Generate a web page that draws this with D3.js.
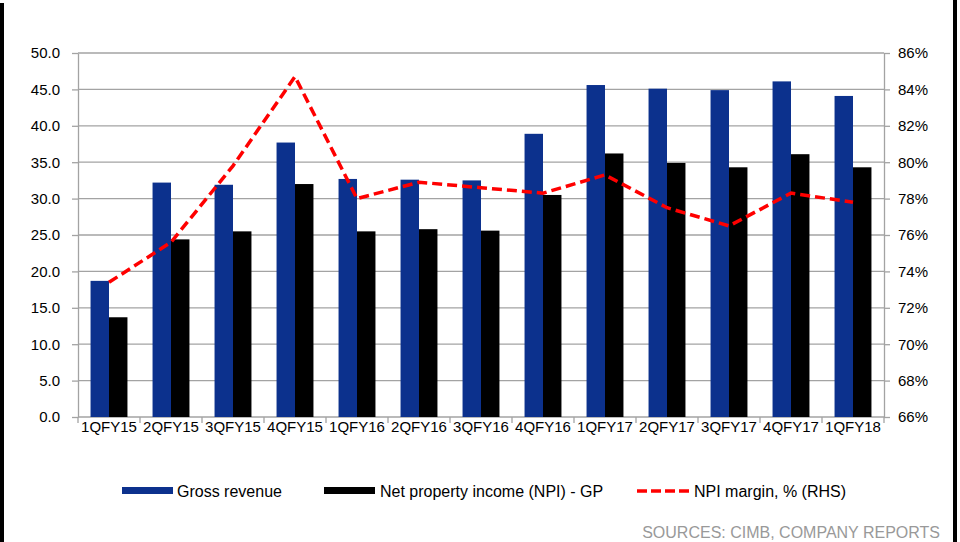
<!DOCTYPE html>
<html><head><meta charset="utf-8">
<script src="https://cdn.jsdelivr.net/npm/d3@7"></script>
<style>body{margin:0;background:#fff}svg{display:block}text{font-family:"Liberation Sans",Arial,sans-serif}</style>
</head><body><svg id="c" width="960" height="542"></svg>
<script>
const categories=["1QFY15","2QFY15","3QFY15","4QFY15","1QFY16","2QFY16","3QFY16","4QFY16","1QFY17","2QFY17","3QFY17","4QFY17","1QFY18"];
const grossRevenue=[18.7,32.2,31.9,37.7,32.7,32.6,32.5,38.9,45.6,45.1,44.9,46.1,44.1];
const npi=[13.7,24.4,25.5,32.0,25.5,25.8,25.6,30.5,36.2,34.9,34.3,36.1,34.3];
const npiMargin=[73.4,75.6,79.8,84.7,78.0,78.9,78.6,78.3,79.3,77.5,76.5,78.3,77.8];
const leftTicks=[0,5,10,15,20,25,30,35,40,45,50];
const rightTicks=[66,68,70,72,74,76,78,80,82,84,86];
const seriesNames=["Gross revenue","Net property income (NPI) - GP","NPI margin, % (RHS)"];
const sourceText="SOURCES: CIMB, COMPANY REPORTS";

const svg=d3.select("#c");
const L=78,R=884,T=53,B=417;
const grid="#a3a3a3",blue="#0c318d",red="#ff0000";
const FF="Liberation Sans, Arial, sans-serif";
svg.append("rect").attr("width",960).attr("height",542).attr("fill","#fff");
// frame stripes
svg.append("rect").attr("x",0).attr("y",3).attr("width",4).attr("height",539).attr("fill","#000");
svg.append("rect").attr("x",953).attr("y",0).attr("width",4).attr("height",542).attr("fill","#000");

const x=d3.scaleBand().domain(categories).range([L,R]).paddingInner(0).paddingOuter(0);
const x1=d3.scaleBand().domain(["g","n"]).range([0,x.bandwidth()]).paddingInner(0).paddingOuter(0.68);
const yL=d3.scaleLinear().domain([0,50]).range([B,T]);
const yR=d3.scaleLinear().domain([66,86]).range([B,T]);

// gridlines
svg.append("g").selectAll("line").data(leftTicks).join("line")
 .attr("x1",L).attr("x2",R).attr("y1",d=>yL(d)).attr("y2",d=>yL(d)).attr("stroke",grid).attr("stroke-width",1.3);

// bars
const data=categories.map((c,i)=>({c,g:grossRevenue[i],n:npi[i],m:npiMargin[i]}));
svg.append("g").selectAll("rect").data(data).join("rect")
 .attr("x",d=>x(d.c)+x1("g")).attr("width",x1.bandwidth()).attr("y",d=>yL(d.g)).attr("height",d=>yL(0)-yL(d.g)).attr("fill",blue);
svg.append("g").selectAll("rect").data(data).join("rect")
 .attr("x",d=>x(d.c)+x1("n")).attr("width",x1.bandwidth()).attr("y",d=>yL(d.n)).attr("height",d=>yL(0)-yL(d.n)).attr("fill","#000");

// left axis
const ax=svg.append("g").attr("transform",`translate(${L},0)`)
 .call(d3.axisLeft(yL).tickValues(leftTicks).tickFormat(d3.format(".1f")).tickSize(6).tickPadding(12).tickSizeOuter(0));
ax.select(".domain").attr("stroke",grid).attr("stroke-width",1.3);
ax.selectAll(".tick line").attr("stroke",grid).attr("stroke-width",1.3);
ax.selectAll("text").attr("font-size",15).attr("fill","#000").style("font-family",FF);

// right axis
const ar=svg.append("g").attr("transform",`translate(${R},0)`)
 .call(d3.axisRight(yR).tickValues(rightTicks).tickFormat(d=>d+"%").tickSize(6).tickPadding(8).tickSizeOuter(0));
ar.select(".domain").attr("stroke",grid).attr("stroke-width",1.3);
ar.selectAll(".tick line").attr("stroke",grid).attr("stroke-width",1.3);
ar.selectAll("text").attr("font-size",15).attr("fill","#000").style("font-family",FF);

// bottom axis
const ab=svg.append("g").attr("transform",`translate(0,${B})`)
 .call(d3.axisBottom(x).tickSize(0).tickPadding(4));
ab.select(".domain").remove();
ab.selectAll("text").attr("font-size",15).attr("fill","#000").style("font-family",FF);
const bounds=categories.map(c=>x(c)).concat([R]);
svg.append("g").selectAll("line").data(bounds).join("line")
 .attr("x1",d=>d).attr("x2",d=>d).attr("y1",B).attr("y2",B+6).attr("stroke",grid).attr("stroke-width",1.3);

// margin line
const line=d3.line().x(d=>x(d.c)+x.bandwidth()/2).y(d=>yR(d.m));
svg.append("path").datum(data).attr("d",line).attr("fill","none").attr("stroke",red)
 .attr("stroke-width",3.5).attr("stroke-dasharray","10,5");

// legend
const lg=svg.append("g");
lg.append("rect").attr("x",122).attr("y",487).attr("width",51).attr("height",7).attr("fill",blue);
lg.append("text").attr("x",177).attr("y",497).attr("font-size",16).text(seriesNames[0]);
lg.append("rect").attr("x",324).attr("y",487).attr("width",51).attr("height",7).attr("fill","#000");
lg.append("text").attr("x",380).attr("y",497).attr("font-size",16).text(seriesNames[1]);
lg.append("line").attr("x1",637).attr("x2",691).attr("y1",491).attr("y2",491).attr("stroke",red).attr("stroke-width",3.5).attr("stroke-dasharray","10,4");
lg.append("text").attr("x",694).attr("y",497).attr("font-size",16).text(seriesNames[2]);

svg.append("text").attr("x",940).attr("y",538).attr("text-anchor","end").attr("font-size",16).attr("fill","#999").text(sourceText);
</script></body></html>
